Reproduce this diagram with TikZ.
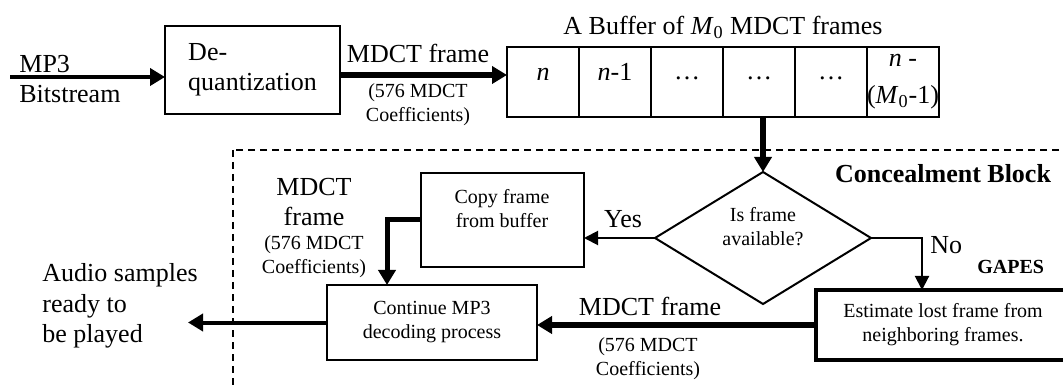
\documentclass[tikz,border=0pt]{standalone}
\usepackage{fontspec}
\setmainfont{Liberation Serif}
\usetikzlibrary{arrows.meta,shapes.geometric}
\begin{document}
\begin{tikzpicture}[x=0.5pt,y=-0.5pt,
  big/.style={font=\fontsize{13}{15}\selectfont},
  sm/.style={font=\fontsize{10}{12}\selectfont},
  bigbf/.style={font=\fontsize{13}{15}\selectfont\bfseries},
  smbf/.style={font=\fontsize{10}{12}\selectfont\bfseries},
  txt/.style={inner sep=0pt,align=center},
  box/.style={draw,line width=1pt,inner sep=0pt,outer sep=0pt},
  cell/.style={box,minimum width=36pt,minimum height=35pt},
  arrH/.style={line width=2.8pt,-{Triangle[length=7.5pt,width=8.5pt]}},
  arrM/.style={line width=2pt,-{Triangle[length=7.5pt,width=8.5pt]}},
  arrS/.style={line width=1pt,-{Triangle[length=7pt,width=7pt]}},
  frame/.style={line width=0.75pt,dash pattern=on 3.5pt off 2.5pt}
]
\useasboundingbox (0,0) rectangle (1063,389);

% concealment block frame
\draw[frame] (233,150) rectangle (1090,420);

% top row
\node[big,anchor=base west,align=left,inner sep=0pt] (mp3) at (19,103) {MP3\\Bitstream};
\node[box,minimum width=87.5pt,minimum height=44pt,big,align=left] (deq) at (252.5,70) {De-\\quantization};
\node[big,anchor=base,inner sep=0pt] (lab1) at (418,63) {MDCT frame};
\node[sm,txt,anchor=base] (lab1b) at (418,122) {(576 MDCT\\Coefficients)};

\node[big,anchor=base,inner sep=0pt] (buftitle) at (723,35) {A Buffer of \textit{M}\textsubscript{0} MDCT frames};
\node[cell] (c1) at (543,82) {};
\node[cell] (c2) at (615,82) {};
\node[cell] (c3) at (687,82) {};
\node[cell] (c4) at (759,82) {};
\node[cell] (c5) at (831,82) {};
\node[cell] (c6) at (903,82) {};
\node[big,txt,anchor=base] (t1) at (543,81) {\textit{n}};
\node[big,txt,anchor=base] (t2) at (615,81) {\textit{n}-1};
\node[big,txt,anchor=base] (t3) at (687,80) {\ldots};
\node[big,txt,anchor=base] (t4) at (759,80) {\ldots};
\node[big,txt,anchor=base] (t5) at (831,80) {\ldots};
\node[big,txt,anchor=base] (t6) at (903,104) {\textit{n} -\\[3.5pt](\textit{M}\textsubscript{0}-1)};

% concealment block
\node[bigbf,anchor=base,inner sep=0pt] (conc) at (943,183) {Concealment Block};
\node[diamond,draw,line width=1pt,minimum width=108pt,minimum height=66pt,inner sep=0pt,outer sep=0pt] (dia) at (763,238) {};
\node[sm,txt,anchor=base] (diatxt) at (763,246) {Is frame\\available?};
\node[box,minimum width=81.5pt,minimum height=47pt] (copy) at (502.5,220) {};
\node[sm,txt,anchor=base] (copytxt) at (502,228) {Copy frame\\from buffer};
\node[box,minimum width=105pt,minimum height=37.5pt,sm,align=center] (cont) at (432,322.5) {Continue MP3\\decoding process};
\node[draw,line width=2pt,minimum width=127pt,minimum height=35pt,sm,align=center,inner sep=0pt,outer sep=0pt] (est) at (943,325) {Estimate lost frame from\\neighboring frames.};

\node[big,anchor=base,inner sep=0pt] (yes) at (623,228) {Yes};
\node[big,anchor=base west,inner sep=0pt] (no) at (930,254) {No};
\node[smbf,anchor=base west,inner sep=0pt] (gapes) at (977,273) {GAPES};
\node[big,txt,anchor=base] (lab2) at (314,226) {MDCT\\frame};
\node[sm,txt,anchor=base] (lab2b) at (314,273) {(576 MDCT\\Coefficients)};
\node[big,anchor=base,inner sep=0pt] (lab3) at (650,315) {MDCT frame};
\node[sm,txt,anchor=base] (lab3b) at (648,375) {(576 MDCT\\Coefficients)};
\node[big,anchor=base west,align=left,inner sep=0pt] (audio) at (42,342) {Audio samples\\ready to\\be played};

% connectors
\coordinate (inS) at (10,77);
\coordinate (outE) at (188,322.5);
\coordinate (tA) at ([yshift=-2.5pt]deq.east);
\draw[arrM] (inS) -- (inS -| deq.west);
\draw[arrH] (tA) -- (tA -| c1.west);
\draw[arrH] (c4.south -| dia.north) -- (dia.north);
\draw[arrS] (dia.west) -- (dia.west -| copy.east);
\draw[line width=2.5pt,-{Triangle[length=7.5pt,width=8.5pt]}] (copy.west) -| ([xshift=-22.5pt]cont.north);
\draw[arrS] (dia.east) -| ([xshift=-10.5pt]est.north);
\draw[arrH] (est.west) -- (est.west -| cont.east);
\draw[arrM] (cont.west) -- (outE);
\end{tikzpicture}
\end{document}
